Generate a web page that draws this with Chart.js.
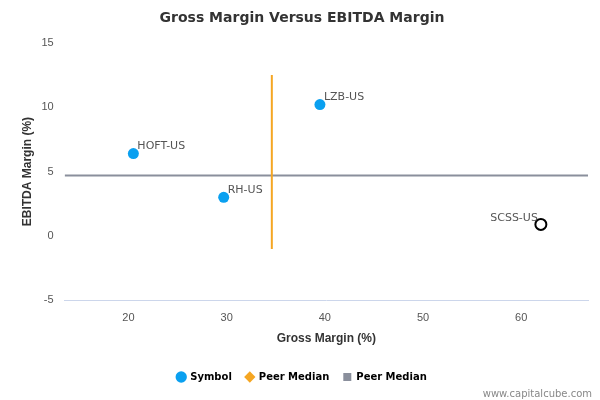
<!DOCTYPE html>
<html><head><script src="https://cdn.jsdelivr.net/npm/chart.js@4"></script>
<style>body{margin:0;background:#fff}#w{width:600px;height:400px;position:relative}</style></head>
<body><div id="w"><canvas id="c"></canvas></div>
<script>
const symbols=["HOFT-US","RH-US","LZB-US","SCSS-US"];
const grossMargin=[20.5,29.7,39.5,62.0];
const ebitdaMargin=[6.4,3.0,10.2,0.9];
const peerGross=34.6, peerEbitda=4.7;
const vLineY=[12.5,-1];
const hLineX=[13.5,66.8];
const xTicks=[20,30,40,50,60];
const labelPlugin={id:'lbl',afterDatasetsDraw(ch){
 const c=ch.ctx,m=ch.getDatasetMeta(2);c.save();c.font='11px "DejaVu Sans", sans-serif';c.fillStyle='#555';
 m.data.forEach((p,i)=>{ if(i===3){c.textAlign='right';c.fillText(symbols[i],p.x-3,p.y-6);} else {c.textAlign='left';c.fillText(symbols[i],p.x+4,p.y-7);} });
 c.textAlign='right';c.fillStyle='#888';c.font='10px "DejaVu Sans", sans-serif';c.fillText('www.capitalcube.com',592,394);c.restore();}};
new Chart(document.getElementById('c'),{type:'scatter',
data:{datasets:[
 {label:'Peer Median',data:[{x:peerGross,y:vLineY[0]},{x:peerGross,y:vLineY[1]}],showLine:true,borderColor:'#f5a623',backgroundColor:'#f5a623',borderWidth:2,pointRadius:0,order:2},
 {label:'Peer Median ',data:[{x:hLineX[0],y:peerEbitda},{x:hLineX[1],y:peerEbitda}],showLine:true,borderColor:'#8a8f9c',backgroundColor:'#8a8f9c',borderWidth:2,pointRadius:0,order:3},
 {label:'Symbol',data:grossMargin.map((x,i)=>({x,y:ebitdaMargin[i]})),pointRadius:5.5,pointHoverRadius:5.5,
  backgroundColor:grossMargin.map((_,i)=>i===3?'#fff':'#0aa0f0'),borderColor:grossMargin.map((_,i)=>i===3?'#000':'#0aa0f0'),borderWidth:grossMargin.map((_,i)=>i===3?2:0),order:1}
]},
options:{responsive:true,maintainAspectRatio:false,animation:false,
 layout:{padding:{left:16,right:12,top:6,bottom:8}},
 plugins:{title:{display:true,text:'Gross Margin Versus EBITDA Margin',font:{size:14,weight:'bold',family:'"DejaVu Sans", sans-serif'},color:'#333',padding:{top:4,bottom:16}},
  legend:{position:'bottom',labels:{usePointStyle:true,boxWidth:8,boxHeight:8,padding:14,font:{size:10,weight:'bold',family:'"DejaVu Sans", sans-serif'},color:'#333',
   generateLabels(ch){return [
    {text:'Symbol',fillStyle:'#0aa0f0',strokeStyle:'#0aa0f0',pointStyle:'circle',datasetIndex:2,lineWidth:0},
    {text:'Peer Median',fillStyle:'#f5a623',strokeStyle:'#f5a623',pointStyle:'rectRot',datasetIndex:0,lineWidth:0},
    {text:'Peer Median',fillStyle:'#8a8f9c',strokeStyle:'#8a8f9c',pointStyle:'rect',datasetIndex:1,lineWidth:0}];}}},
  tooltip:{enabled:false}},
 scales:{
  x:{min:13.5,max:66.8,afterBuildTicks(a){a.ticks=xTicks.map(v=>({value:v}));},grid:{display:false},border:{color:'#ccd6eb'},
   ticks:{color:'#555',font:{size:11}},title:{display:true,text:'Gross Margin (%)',font:{size:12,weight:'bold'},color:'#333',padding:{top:4,bottom:12}}},
  y:{min:-5,max:15,ticks:{stepSize:5,color:'#555',font:{size:11}},grid:{display:false},border:{display:false},
   title:{display:true,text:'EBITDA Margin (%)',font:{size:12,weight:'bold'},color:'#333'}}}},
plugins:[labelPlugin]});
</script></body></html>
